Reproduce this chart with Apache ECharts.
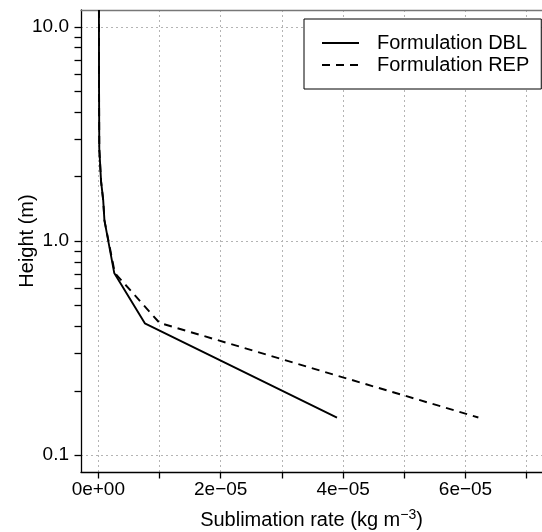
<!DOCTYPE html>
<html>
<head>
<meta charset="utf-8">
<script src="https://cdn.jsdelivr.net/npm/echarts@6/dist/echarts.min.js"></script>
<style>
html, body { margin: 0; padding: 0; background: #fff; }
#chart { width: 542px; height: 532px; }
</style>
</head>
<body>
<div id="chart"></div>
<script>
// values
var heightsDBL = [12, 5, 2.7, 1.9, 1.55, 1.25, 0.71, 0.413, 0.15];
var rateDBL    = [1.0e-7, 1.2e-7, 1.6e-7, 4.5e-7, 8e-7, 1.0e-6, 2.6e-6, 7.6e-6, 3.9e-5];
var heightsREP = [12, 5, 2.7, 1.9, 1.55, 1.25, 0.71, 0.415, 0.15];
var rateREP    = [1.0e-7, 1.2e-7, 1.6e-7, 4.5e-7, 8e-7, 1.0e-6, 2.7e-6, 1.0e-5, 6.21e-5];

var xTicks  = [0, 1e-5, 2e-5, 3e-5, 4e-5, 5e-5, 6e-5, 7e-5];
var xLabels = [0, 2e-5, 4e-5, 6e-5];
var yLabels = [0.1, 1, 10];
var yMinorTicks = [0.1, 0.2, 0.3, 0.4, 0.5, 0.6, 0.7, 0.8, 0.9, 1, 2, 3, 4, 5, 6, 7, 8, 9, 10];

var FONT = 'Liberation Sans, Arial, Helvetica, sans-serif';

function sciLabel(v) {
    if (Math.abs(v) < 1e-20) return '0e+00';
    var e = Math.floor(Math.log10(Math.abs(v)) + 1e-9);
    var m = Math.round(v / Math.pow(10, e));
    var sign = e < 0 ? '\u2212' : '+';
    var ae = Math.abs(e);
    return m + 'e' + sign + (ae < 10 ? '0' + ae : ae);
}

function zip(xs, ys) {
    return xs.map(function (x, i) { return [x, ys[i]]; });
}

var chart = echarts.init(document.getElementById('chart'));

var gridDash = { color: '#b4b4b4', width: 1, type: [2, 3] };

var option = {
    animation: false,
    grid: { left: 81, top: 10, right: 0, bottom: 60, containLabel: false, outerBoundsMode: 'none' },
    legend: {
        orient: 'vertical',
        left: 304,
        top: 19,
        padding: [13, 12, 13, 17],
        borderColor: '#000',
        borderWidth: 1,
        backgroundColor: '#fff',
        itemWidth: 37,
        itemHeight: 14,
        itemGap: 0,
        itemStyle: { opacity: 0 },
        textStyle: { fontFamily: FONT, fontSize: 20, color: '#000', lineHeight: 22, padding: [0, 0, 0, 13] },
        data: ['Formulation DBL', 'Formulation REP']
    },
    xAxis: [{
        type: 'value',
        min: -2.83e-6,
        max: 7.25e-5,
        position: 'bottom',
        name: '{a|Sublimation rate (kg m}{s|\u22123}{a|)}',
        nameLocation: 'middle',
        nameGap: 36,
        nameMoveOverlap: false,
        nameTextStyle: {
            rich: {
                a: { fontFamily: FONT, fontSize: 20, color: '#000' },
                s: { fontFamily: FONT, fontSize: 14, color: '#000', verticalAlign: 'bottom', padding: [0, 0, 10, 0] }
            }
        },
        axisLine: { show: true, onZero: false, lineStyle: { color: '#000', width: 1.3 } },
        axisTick: { show: true, length: 6.5, lineStyle: { color: '#000', width: 1.3 }, customValues: xTicks },
        axisLabel: {
            customValues: xLabels,
            margin: 8,
            fontFamily: FONT, fontSize: 19, color: '#000',
            formatter: sciLabel
        },
        splitLine: { show: true, lineStyle: gridDash }
    }, {
        type: 'value',
        min: -2.83e-6,
        max: 7.25e-5,
        position: 'top',
        axisLine: { show: true, onZero: false, lineStyle: { color: '#777', width: 1.3 } },
        axisTick: { show: false },
        axisLabel: { show: false },
        splitLine: { show: false }
    }],
    yAxis: [{
        type: 'log',
        logBase: 10,
        min: 0.0835,
        max: 12,
        position: 'left',
        name: 'Height (m)',
        nameLocation: 'middle',
        nameGap: 44,
        nameMoveOverlap: false,
        nameTextStyle: { fontFamily: FONT, fontSize: 20, color: '#000' },
        axisLine: { show: true, onZero: false, lineStyle: { color: '#000', width: 1.3 } },
        axisTick: { show: true, length: 6.5, lineStyle: { color: '#000', width: 1.3 }, customValues: yMinorTicks },
        axisLabel: {
            customValues: yLabels,
            margin: 12,
            fontFamily: FONT, fontSize: 19, color: '#000',
            formatter: function (v) { return v.toFixed(1); }
        },
        splitLine: { show: false }
    }, {
        type: 'log',
        logBase: 10,
        min: 0.0835,
        max: 12,
        position: 'left',
        axisLine: { show: false, onZero: false },
        axisTick: { show: false, customValues: yLabels },
        axisLabel: { show: false, customValues: yLabels },
        splitLine: { show: true, lineStyle: gridDash }
    }],
    series: [{
        name: 'Formulation DBL',
        type: 'line',
        xAxisIndex: 0,
        yAxisIndex: 0,
        symbol: 'none',
        lineStyle: { color: '#000', width: 1.9, type: 'solid' },
        itemStyle: { color: '#000' },
        data: zip(rateDBL, heightsDBL),
        z: 5
    }, {
        name: 'Formulation REP',
        type: 'line',
        xAxisIndex: 0,
        yAxisIndex: 0,
        symbol: 'none',
        lineStyle: { color: '#000', width: 1.9, type: [8, 6] },
        itemStyle: { color: '#000' },
        data: zip(rateREP, heightsREP),
        z: 4
    }]
};

chart.setOption(option);
</script>
</body>
</html>
